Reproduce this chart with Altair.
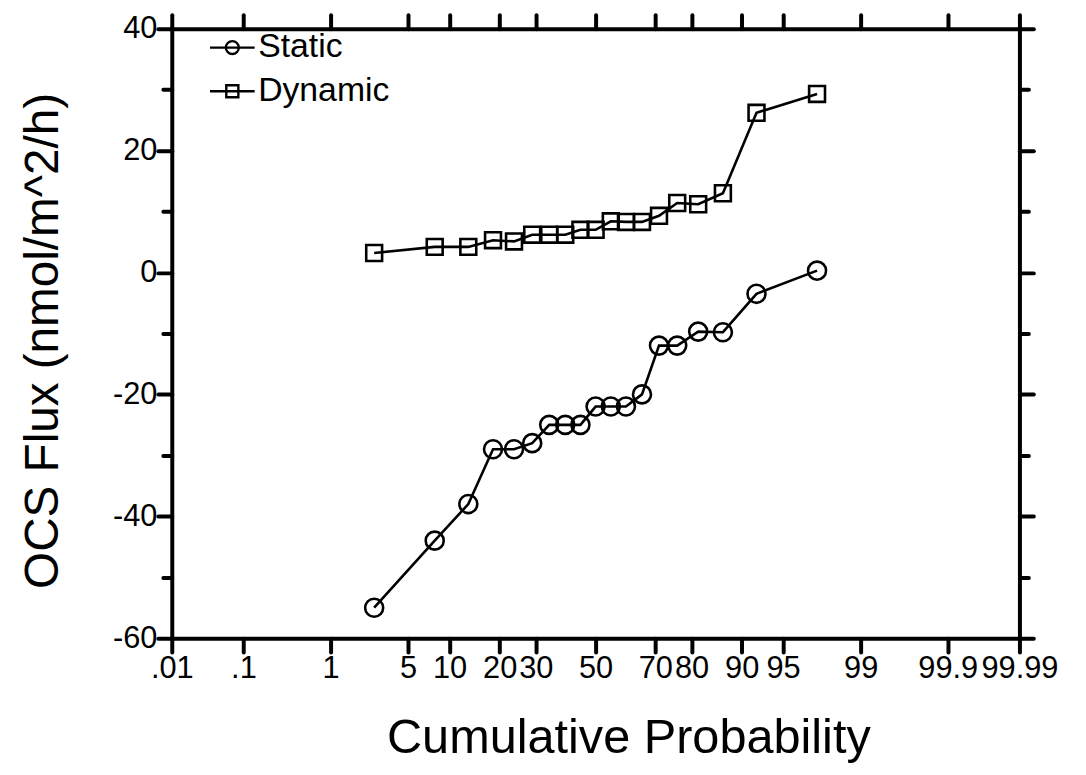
import altair as alt
import pandas as pd
from statistics import NormalDist

# ---- data ----
prob = [2.6, 7.9, 13.2, 18.4, 23.7, 28.9, 34.2, 39.5, 44.7, 50.0,
        55.3, 60.5, 65.8, 71.1, 76.3, 81.6, 86.8, 92.1, 97.4]
static = [-55, -44, -38, -29, -29, -28, -25, -25, -25, -22,
          -22, -22, -20, -12, -12, -9.7, -9.8, -3.5, 0.3]
dynamic = [3.2, 4.2, 4.2, 5.3, 5.1, 6.2, 6.2, 6.2, 7.0, 7.0,
           8.4, 8.3, 8.3, 9.3, 11.4, 11.2, 13.0, 26.2, 29.3]
series_names = ["Static", "Dynamic"]
tick_probs = [0.01, 0.1, 1, 5, 10, 20, 30, 50, 70, 80, 90, 95, 99, 99.9, 99.99]
tick_labels = [".01", ".1", "1", "5", "10", "20", "30", "50", "70", "80",
               "90", "95", "99", "99.9", "99.99"]
y_ticks = [-60, -50, -40, -30, -20, -10, 0, 10, 20, 30, 40]

df = pd.DataFrame({
    "p": prob + prob,
    "value": static + dynamic,
    "series": ["Static"] * len(prob) + ["Dynamic"] * len(prob),
})

# probability-axis positions (normal quantiles of the tick probabilities)
nd = NormalDist()
z_ticks = [nd.inv_cdf(p / 100.0) for p in tick_probs]
mids = [(a + b) / 2 for a, b in zip(z_ticks[:-1], z_ticks[1:])]
label_expr = ""
for m, lab in zip(mids, tick_labels[:-1]):
    label_expr += f"datum.value < {m} ? '{lab}' : "
label_expr += f"'{tick_labels[-1]}'"

FONT = "Liberation Sans"
xscale = alt.Scale(domain=[z_ticks[0], z_ticks[-1]], nice=False, zero=False)
yscale = alt.Scale(domain=[-60, 40], nice=False, zero=False)
y_tick_size = {"condition": {"test": "datum.value % 20 === 0", "value": 14}, "value": 9}

common = dict(domainColor="black", domainWidth=4, tickColor="black", tickWidth=4,
              tickCap="round", domainCap="square", grid=False, labelFlush=False,
              labelOverlap=False)

x_bottom = alt.Axis(orient="bottom", values=z_ticks, labelExpr=label_expr, tickSize=14,
                    labelFont=FONT, labelFontSize=31, labelColor="black", labelPadding=2,
                    title="Cumulative Probability", titleFont=FONT, titleFontSize=49,
                    titleFontWeight="normal", titleColor="black", titlePadding=30,
                    titleX=460, titleAlign="center", **common)
y_left = alt.Axis(orient="left", values=y_ticks,
                  labelExpr="datum.value % 20 === 0 ? toString(datum.value) : ''",
                  tickSize=y_tick_size, labelFont=FONT, labelFontSize=31, labelColor="black",
                  labelPadding=1, title="OCS Flux (nmol/m^2/h)", titleFont=FONT,
                  titleFontSize=48, titleFontWeight="normal", titleColor="black",
                  titlePadding=45, titleY=314, titleAlign="center", **common)
x_top = alt.Axis(orient="top", values=z_ticks, labels=False, tickSize=14, title=None, **common)
y_right = alt.Axis(orient="right", values=y_ticks, labels=False, tickSize=y_tick_size,
                   title=None, **common)

base = alt.Chart(df).transform_calculate(z="quantileNormal(datum.p / 100)")

lines = base.mark_line(color="black", strokeWidth=2.6).encode(
    x=alt.X("z:Q", scale=xscale, axis=x_bottom),
    y=alt.Y("value:Q", scale=yscale, axis=y_left),
    detail="series:N",
)

points = base.mark_point(filled=False, color="black", strokeWidth=2.6, opacity=1).encode(
    x=alt.X("z:Q", scale=xscale, axis=x_top),
    y=alt.Y("value:Q", scale=yscale, axis=y_right),
    shape=alt.Shape("series:N", scale=alt.Scale(domain=series_names, range=["circle", "square"]),
                    legend=None),
    size=alt.Size("series:N", scale=alt.Scale(domain=series_names, range=[330, 256]),
                  legend=None),
)

path_c = "M-1,0H1M-0.29,0A0.29,0.29,0,1,1,0.29,0A0.29,0.29,0,1,1,-0.29,0"
path_s = "M-1,0H1M-0.27,-0.27H0.27V0.27H-0.27Z"

legend_layer = base.transform_filter("false").mark_point(
    filled=False, color="black", strokeWidth=2.4, size=2025, opacity=1
).encode(
    x=alt.X("z:Q", scale=xscale, axis=None),
    y=alt.Y("value:Q", scale=yscale, axis=None),
    shape=alt.Shape("series:N",
                    scale=alt.Scale(domain=series_names, range=[path_c, path_s]),
                    legend=alt.Legend(orient="none", legendX=37, legendY=-5, title=None,
                                      padding=0, rowPadding=3, symbolSize=2025,
                                      symbolStrokeWidth=2.4, symbolStrokeColor="black",
                                      symbolFillColor="transparent", labelFont=FONT,
                                      labelFontSize=34, labelColor="black", labelOffset=2,
                                      labelLimit=400)),
)

chart = alt.layer(lines, points, legend_layer).resolve_scale(
    shape="independent", size="independent"
).resolve_axis(x="independent", y="independent").properties(
    width=854, height=614,
    autosize=alt.AutoSizeParams(type="none"),
    padding={"left": 165, "top": 18, "right": 59, "bottom": 135},
    background="white",
).configure_view(stroke=None)

chart.save("out.html", embed_options={"renderer": "svg", "actions": False})
